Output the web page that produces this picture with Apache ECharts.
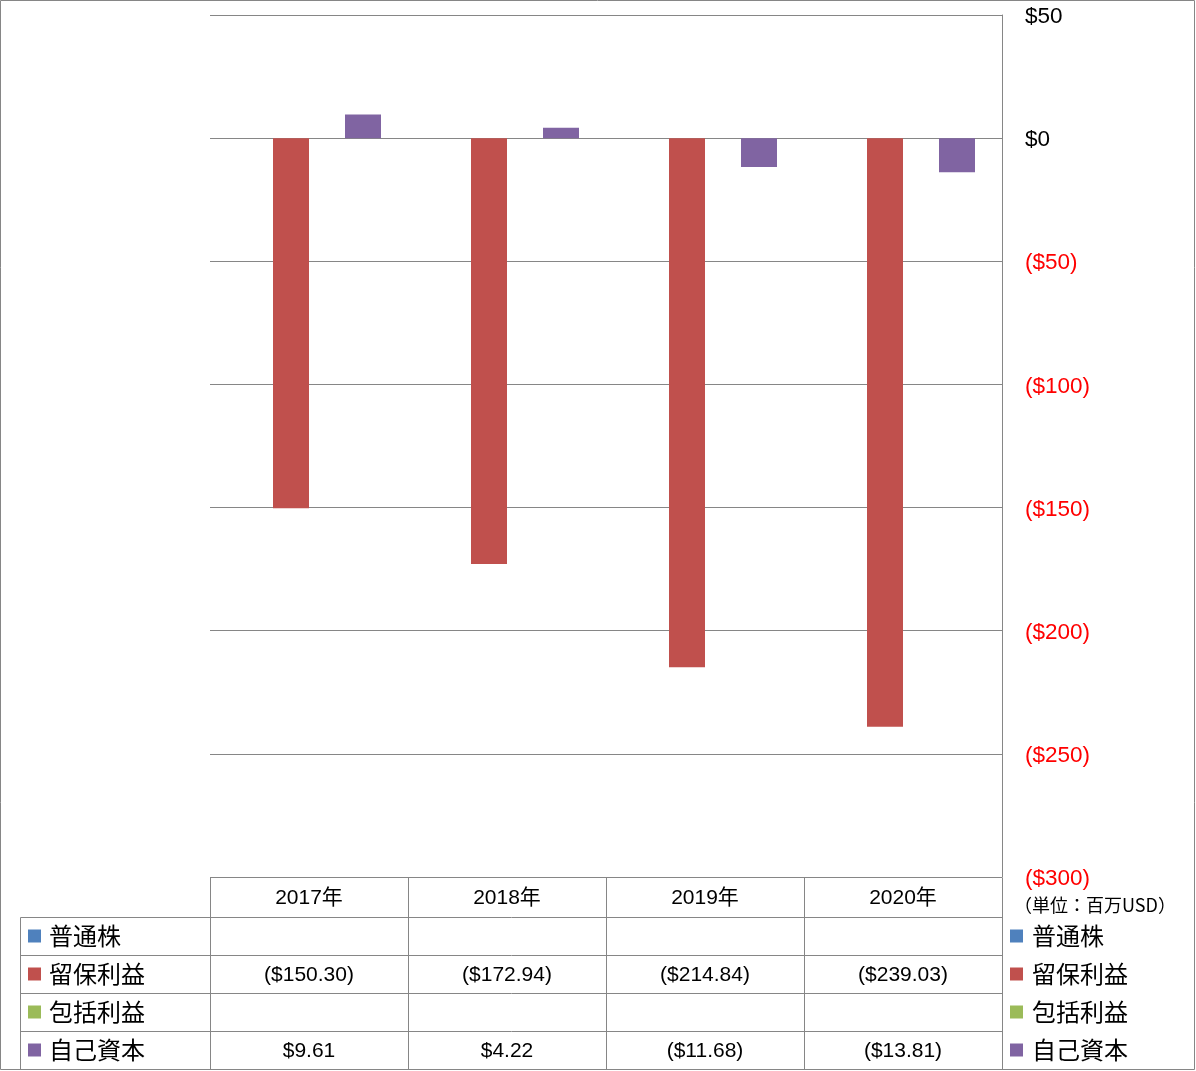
<!DOCTYPE html>
<html><head><meta charset="utf-8">
<script src="https://cdn.jsdelivr.net/npm/echarts@6/dist/echarts.min.js"></script>
<style>html,body{margin:0;padding:0;background:#fff}#c{width:1196px;height:1071px}</style>
</head><body><div id="c"></div>
<script>
const categories = ['2017年', '2018年', '2019年', '2020年'];
const seriesNames = ['普通株', '留保利益', '包括利益', '自己資本'];
const commonStock = [null, null, null, null];
const retainedEarnings = [-150.30, -172.94, -214.84, -239.03];
const comprehensiveIncome = [null, null, null, null];
const treasuryEquity = [9.61, 4.22, -11.68, -13.81];
const yMin = -300, yMax = 50, yStep = 50;
const unitLabel = '（単位：百万USD）';

const colors = ['#4F81BD', '#C0504D', '#9BBB59', '#8064A2'];
const allData = [commonStock, retainedEarnings, comprehensiveIncome, treasuryEquity];
const GRAY = '#868686';
const NUMFONT = '"Liberation Sans", "Noto Sans CJK JP", sans-serif';
const JPFONT = '"Noto Sans CJK JP", sans-serif';

function fmtVal(v) {
  if (v === null || v === undefined) return '';
  return v < 0 ? '($' + Math.abs(v).toFixed(2) + ')' : '$' + v.toFixed(2);
}
function fmtAxis(v) {
  return v < 0 ? '{neg|($' + Math.abs(v) + ')}' : '{pos|$' + v + '}';
}

const chart = echarts.init(document.getElementById('c'), null, {renderer: 'canvas'});
const gridL = 210, gridR = 194, gridT = 15, gridB = 194;

chart.setOption({
  animation: false,
  grid: {left: gridL, right: gridR, top: gridT, bottom: gridB, containLabel: false},
  xAxis: {
    type: 'category', data: categories,
    axisLine: {show: false, onZero: false}, axisTick: {show: false},
    axisLabel: {margin: 11, color: '#000', fontSize: 21, fontFamily: NUMFONT}
  },
  yAxis: {
    type: 'value', position: 'right', min: yMin, max: yMax, interval: yStep,
    axisLine: {show: true, lineStyle: {color: GRAY, width: 1}},
    axisTick: {show: false},
    splitLine: {show: true, lineStyle: {color: GRAY, width: 1}},
    axisLabel: {
      margin: 23, formatter: fmtAxis,
      rich: {
        pos: {color: '#000', fontSize: 22.5, fontFamily: NUMFONT, padding: [4, 0, 0, 0]},
        neg: {color: '#FF0000', fontSize: 22.5, fontFamily: NUMFONT, padding: [4, 0, 0, 0]}
      }
    }
  },
  series: seriesNames.map((n, i) => ({
    name: n, type: 'bar', data: allData[i], barWidth: 36, barGap: '0%',
    itemStyle: {color: colors[i]}
  }))
});

// Build data table with graphic elements
const g = [];
const yTop = chart.convertToPixel({yAxisIndex: 0}, yMin); // bottom of plot
const catCenters = categories.map((c, i) => chart.convertToPixel({xAxisIndex: 0}, i));
const catW = catCenters.length > 1 ? catCenters[1] - catCenters[0] : 198;
const bounds = [catCenters[0] - catW / 2].concat(catCenters.map(c => c + catW / 2));
const headerH = 40, rowH = 38;
const tableLeft = 20;
const rowTop = yTop + headerH;
const tableBottom = rowTop + rowH * seriesNames.length;
const ln = (x1, y1, x2, y2) => ({type: 'line', silent: true,
  shape: {x1, y1, x2, y2}, style: {stroke: GRAY, lineWidth: 1}});
const px = v => Math.round(v) + 0.5;

// outer border
g.push({type: 'rect', silent: true, shape: {x: 0.5, y: 0.5, width: 1194, height: 1069},
  style: {fill: null, stroke: GRAY, lineWidth: 1}});
// verticals
bounds.forEach(b => g.push(ln(px(b), px(yTop), px(b), px(tableBottom))));
g.push(ln(px(tableLeft), px(rowTop), px(tableLeft), px(tableBottom)));
// horizontals
for (let r = 0; r <= seriesNames.length; r++) {
  const y = px(rowTop + r * rowH);
  g.push(ln(px(tableLeft), y, px(bounds[bounds.length - 1]), y));
}
// rows
seriesNames.forEach((n, r) => {
  const cy = rowTop + r * rowH + rowH / 2;
  g.push({type: 'rect', silent: true, shape: {x: 28, y: cy - 6.5, width: 13, height: 13}, style: {fill: colors[r]}});
  g.push({type: 'text', silent: true, style: {x: 49, y: cy, text: n, fill: '#000',
    font: '24px ' + JPFONT, textAlign: 'left', textVerticalAlign: 'middle'}});
  // right legend
  const rx = bounds[bounds.length - 1];
  g.push({type: 'rect', silent: true, shape: {x: rx + 8, y: cy - 6.5, width: 13, height: 13}, style: {fill: colors[r]}});
  g.push({type: 'text', silent: true, style: {x: rx + 30, y: cy, text: n, fill: '#000',
    font: '24px ' + JPFONT, textAlign: 'left', textVerticalAlign: 'middle'}});
  allData[r].forEach((v, i) => {
    g.push({type: 'text', silent: true, style: {x: catCenters[i], y: cy + 1, text: fmtVal(v), fill: '#000',
      font: '21px ' + NUMFONT, textAlign: 'center', textVerticalAlign: 'middle'}});
  });
});
g.push({type: 'text', silent: true, style: {x: bounds[bounds.length - 1] + 93, y: yTop + 28, text: unitLabel,
  fill: '#000', font: '18px ' + JPFONT, textAlign: 'center', textVerticalAlign: 'middle'}});

chart.setOption({graphic: g});
</script></body></html>
